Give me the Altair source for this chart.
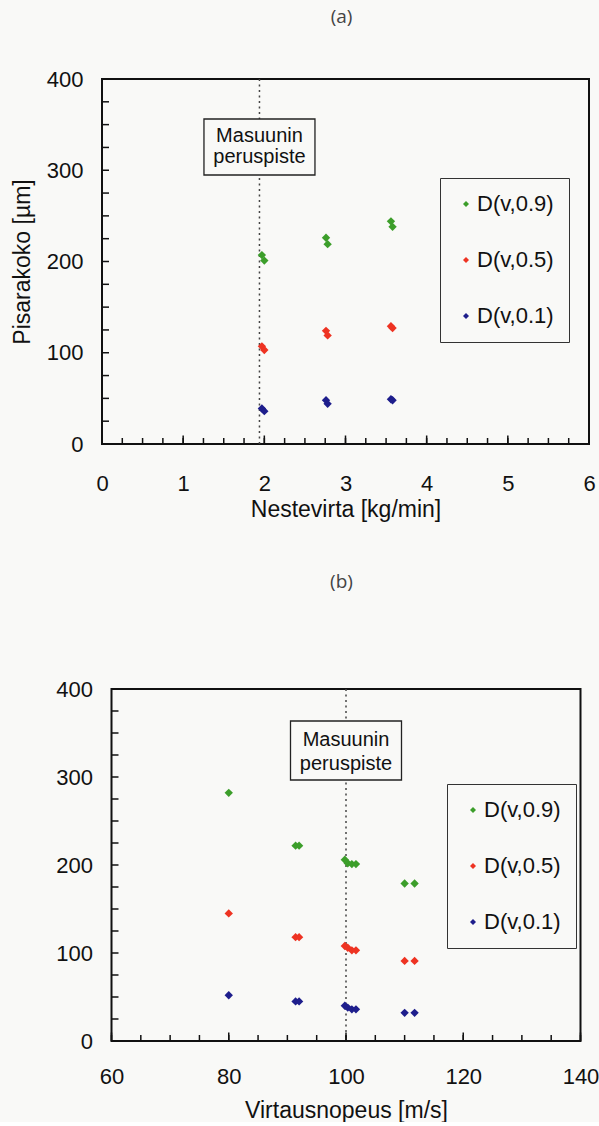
import altair as alt
import pandas as pd

FONT = "Liberation Sans"
BG = "#f9f9f7"
INK = "#111111"

SERIES = ["D(v,0.9)", "D(v,0.5)", "D(v,0.1)"]
COLORS = ["#3c9e2a", "#ee3322", "#1e1e8c"]

# ---- panel (a): Nestevirta [kg/min]
a_x = [1.97, 2.00, 2.76, 2.78, 3.56, 3.58]
a_d09 = [207, 201, 226, 219, 244, 238]
a_d05 = [107, 103, 124, 119, 129, 127]
a_d01 = [39, 36, 48, 44, 49, 48]
a_ref = 1.94
a_labels = [0, 1, 2, 3, 4, 5, 6]
a_minor = [i * 0.25 for i in range(25)]

# ---- panel (b): Virtausnopeus [m/s]
b_x = [80, 91.4, 92.0, 99.8, 100.3, 101.0, 101.7, 110.0, 111.7]
b_d09 = [282, 222, 222, 206, 202, 201, 201, 179, 179]
b_d05 = [145, 118, 118, 108, 106, 103, 103, 91, 91]
b_d01 = [52, 45, 45, 40, 38, 36, 36, 32, 32]
b_ref = 100
b_labels = [60, 80, 100, 120, 140]
b_minor = list(range(60, 141, 5))

y_labels = [0, 100, 200, 300, 400]
y_minor = list(range(0, 401, 25))

ANNOT = ["Masuunin", "peruspiste"]


def panel(xs, d09, d05, d01, ref, dom, labels, minor, x_title, y_title,
          height, lab_pad, tit_pad, leg_x, leg_y, title, t_off, box_y,
          line_y, rng=None, y_off=0):
    n = len(xs)
    df = pd.DataFrame({
        "x": list(xs) * 3,
        "y": list(d09) + list(d05) + list(d01),
        "series": [SERIES[0]] * n + [SERIES[1]] * n + [SERIES[2]] * n,
    })
    one = pd.DataFrame({"k": [0]})
    sk = dict(domain=dom, nice=False, zero=False)
    if rng is not None:
        sk["range"] = rng
    sx = alt.Scale(**sk)
    sy = alt.Scale(domain=[0, 400], nice=False)

    xaxis = alt.Axis(values=labels, format="d", title=x_title, ticks=False,
                     tickSize=0, domain=False, grid=False, labelFont=FONT,
                     labelFontSize=22, labelColor=INK, labelPadding=lab_pad,
                     labelFlush=False, labelOverlap=False, titleFont=FONT,
                     titleFontSize=23, titleFontWeight="normal",
                     titleColor=INK, titlePadding=tit_pad)
    yk = dict(values=y_labels, format="d", ticks=False, tickSize=0,
              domain=False, grid=False, labelFont=FONT, labelFontSize=22,
              labelColor=INK, labelPadding=19, titleFont=FONT,
              titleFontSize=23, titleFontWeight="normal", titleColor=INK,
              titlePadding=12, offset=y_off)
    yk["title"] = y_title if y_title else None
    yaxis = alt.Axis(**yk)

    def XD(v):
        return alt.XDatum(v, scale=sx, axis=xaxis)

    def YD(v):
        return alt.YDatum(v, scale=sy, axis=yaxis)

    points = alt.Chart(df).mark_point(
        shape="diamond", filled=True, size=70, opacity=1
    ).encode(
        x=alt.X("x:Q", scale=sx, axis=xaxis),
        y=alt.Y("y:Q", scale=sy, axis=yaxis),
        color=alt.Color(
            "series:N", sort=SERIES,
            scale=alt.Scale(domain=SERIES, range=COLORS),
            legend=alt.Legend(
                title=None, orient="none", legendX=leg_x, legendY=leg_y,
                padding=15, rowPadding=34, symbolType="diamond",
                symbolSize=36, symbolStrokeWidth=0, symbolOpacity=1,
                labelFont=FONT, labelFontSize=22, labelColor=INK,
                labelOffset=0, strokeColor="#333333", fillColor=BG,
            ),
        ),
    )

    frame = alt.Chart(one).mark_rect(
        fill=None, stroke=INK, strokeWidth=2
    ).encode(
        x=XD(dom[0]), x2=alt.datum(dom[1]),
        y=YD(0), y2=alt.datum(400),
    )

    dashed = alt.Chart(one).mark_rule(
        strokeDash=[2, 3.5], stroke="#444444", strokeWidth=1.5
    ).encode(x=XD(ref))

    box = alt.Chart(one).mark_rect(
        fill=BG, stroke="#222222", strokeWidth=1.3, xOffset=-55.5, x2Offset=55.5
    ).encode(
        x=XD(ref), x2=alt.datum(ref),
        y=alt.value(box_y[0]), y2=alt.value(box_y[1]),
    )

    texts = [
        alt.Chart(one).mark_text(
            font=FONT, fontSize=20, color=INK, align="center",
            baseline="alphabetic"
        ).encode(
            x=XD(ref), y=alt.value(ly), text=alt.value(t),
        )
        for t, ly in zip(ANNOT, line_y)
    ]

    ytk = alt.Chart(pd.DataFrame({"v": y_minor})).mark_rule(
        color=INK, strokeWidth=1.5, x2Offset=7
    ).encode(
        x=XD(dom[0]), x2=alt.datum(dom[0]),
        y=alt.Y("v:Q", scale=sy, axis=yaxis),
    )
    xtk_min = alt.Chart(pd.DataFrame({"v": minor})).mark_rule(
        color=INK, strokeWidth=1.5, y2Offset=-6
    ).encode(
        x=alt.X("v:Q", scale=sx, axis=xaxis),
        y=YD(0), y2=alt.datum(0),
    )
    xtk_maj = alt.Chart(pd.DataFrame({"v": labels})).mark_rule(
        color=INK, strokeWidth=1.5, y2Offset=-8.5
    ).encode(
        x=alt.X("v:Q", scale=sx, axis=xaxis),
        y=YD(0), y2=alt.datum(0),
    )

    return alt.layer(
        frame, dashed, box, *texts, ytk, xtk_min, xtk_maj, points
    ).properties(
        width=487, height=height,
        title=alt.TitleParams(
            text=title, font="Open Sans", fontSize=19, fontWeight="normal",
            color="#444444", anchor="middle", frame="group", offset=t_off,
            dx=-4,
        ),
    )


pa = panel(a_x, a_d09, a_d05, a_d01, a_ref, [0, 6], a_labels, a_minor,
           "Nestevirta [kg/min]", "Pisarakoko [µm]", 365, 29, 4,
           338, 99, "(a)", 41, [40, 96], [63, 84])
pb = panel(b_x, b_d09, b_d05, b_d01, b_ref, [60, 140], b_labels, b_minor,
           "Virtausnopeus [m/s]", None, 352, 25, 12,
           345, 95, "(b)", 86, [32, 91], [57, 81],
           rng=[9.5, 478.5], y_off=-9.5)

chart = alt.vconcat(pa, pb, spacing=52).resolve_scale(
    color="independent", x="independent", y="independent"
).resolve_legend(color="independent").properties(
    padding={"left": 11, "top": 8, "right": 0, "bottom": 0}
).configure(background=BG).configure_view(stroke=None)

chart.save("out.html", embed_options={"renderer": "svg", "actions": False})
